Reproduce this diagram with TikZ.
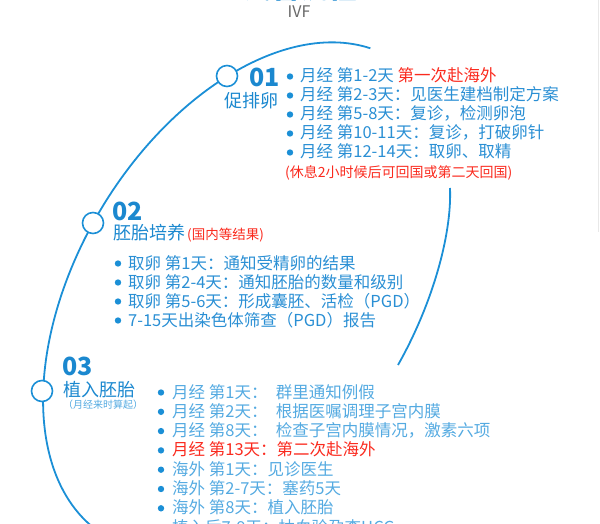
\documentclass[tikz,border=0pt]{standalone}
\usepackage{fontspec}
\setmainfont{Noto Sans CJK SC}

\definecolor{arcblue}{RGB}{27,143,214}
\definecolor{hblue}{RGB}{27,136,207}
\definecolor{tblue}{RGB}{42,143,212}
\definecolor{lblue}{RGB}{84,170,225}
\definecolor{notered}{RGB}{250,42,30}
\definecolor{ivfgray}{RGB}{105,105,105}
\definecolor{edgegray}{RGB}{232,232,232}

\tikzset{
	arcline/.style={draw=arcblue, line width=1.8},
	stepdot/.style={circle, draw=arcblue, line width=1.6, fill=white, minimum size=21, inner sep=0},
	num/.style={anchor=base west, inner sep=0, text=hblue, font=\fontsize{25}{25}\bfseries\selectfont},
	head/.style={anchor=base west, inner sep=0, text=hblue, font=\fontsize{18}{18}\selectfont},
	item/.style={anchor=base west, inner sep=0, text=tblue, font=\fontsize{16.5}{19}\selectfont},
	note/.style={anchor=base west, inner sep=0, text=notered, font=\fontsize{14}{14}\selectfont}
}

\begin{document}
\begin{tikzpicture}[x=1pt, y=1pt]
	\useasboundingbox (0,0) rectangle (600,-524);
	% title
	\node[anchor=base, inner sep=0, text=hblue, font=\fontsize{28.5}{28.5}\bfseries\selectfont] (title) at (300,1.5) {试管流程};
	\node[anchor=base, inner sep=0, text=ivfgray, font=\fontsize{16}{16}\selectfont] (ivf) at (299,-18) {IVF};
	\draw[edgegray, line width=1] (598.5,0) -- (598.5,-232);
	% timeline
	\draw[arcline, shift={(248.8,-297.1)}, rotate=59] (8:278.6 and 172)
		arc[start angle=8, end angle=200, x radius=278.6, y radius=172];
	\draw[arcline] (450,-188) .. controls (452,-235) and (432,-305) .. (398,-365);
	\node[stepdot] (c1) at (227,-76) {};
	\node[stepdot] (c2) at (93,-223) {};
	\node[stepdot] (c3) at (42,-391) {};
	% step 01
	\node[num] (n1) at (249,-87) {01};
	\node[head] (h1) at (224,-108) {促排卵};
	\foreach \txt [count=\i from 0] in {
		{月经 第1-2天 \textcolor{notered}{第一次赴海外}},
		月经 第2-3天：见医生建档制定方案,
		月经 第5-8天：复诊，检测卵泡,
		月经 第10-11天：复诊，打破卵针,
		月经 第12-14天：取卵、取精}{
		\node[item] (p\i) at (300,-82-19*\i) {\txt};
		\fill[arcblue] ([shift={(-10,5.5)}]p\i.base west) circle (3.2);
	}
	\node[note] (rest) at (285,-178) {(休息2小时候后可回国或第二天回国)};
	% step 02
	\node[num] (n2) at (112,-220) {02};
	\node[head] (h2) at (113,-240) {胚胎培养\hspace{2pt}{\fontsize{13.5}{13.5}\selectfont\color{notered}(国内等结果)}};
	\foreach \txt [count=\i from 0] in {
		取卵 第1天：通知受精卵的结果,
		取卵 第2-4天：通知胚胎的数量和级别,
		取卵 第5-6天：形成囊胚、活检（PGD）,
		7-15天出染色体筛查（PGD）报告}{
		\node[item] (q\i) at (128,-269-19*\i) {\txt};
		\fill[arcblue] ([shift={(-10,5.5)}]q\i.base west) circle (3.2);
	}
	% step 03
	\node[num] (n3) at (62,-375) {03};
	\node[head] (h3) at (63,-396) {植入胚胎};
	\node[anchor=base west, inner sep=0, text=lblue, font=\fontsize{10}{10}\selectfont] (h3b) at (63,-408) {（月经来时算起）};
	\foreach \txt [count=\i from 0] in {
		月经 第1天：\enspace 群里通知例假,
		月经 第2天：\enspace 根据医嘱调理子宫内膜,
		月经 第8天：\enspace 检查子宫内膜情况，激素六项,
		{\textcolor{notered}{月经 第13天：第二次赴海外}},
		海外 第1天：见诊医生,
		海外 第2-7天：塞药5天,
		海外 第8天：植入胚胎,
		植入后7-9天：抽血验孕查HCG}{
		\node[item, text=lblue] (r\i) at (172,-398-19.3*\i) {\txt};
		\fill[arcblue] ([shift={(-11,5.5)}]r\i.base west) circle (3.2);
	}
\end{tikzpicture}
\end{document}
